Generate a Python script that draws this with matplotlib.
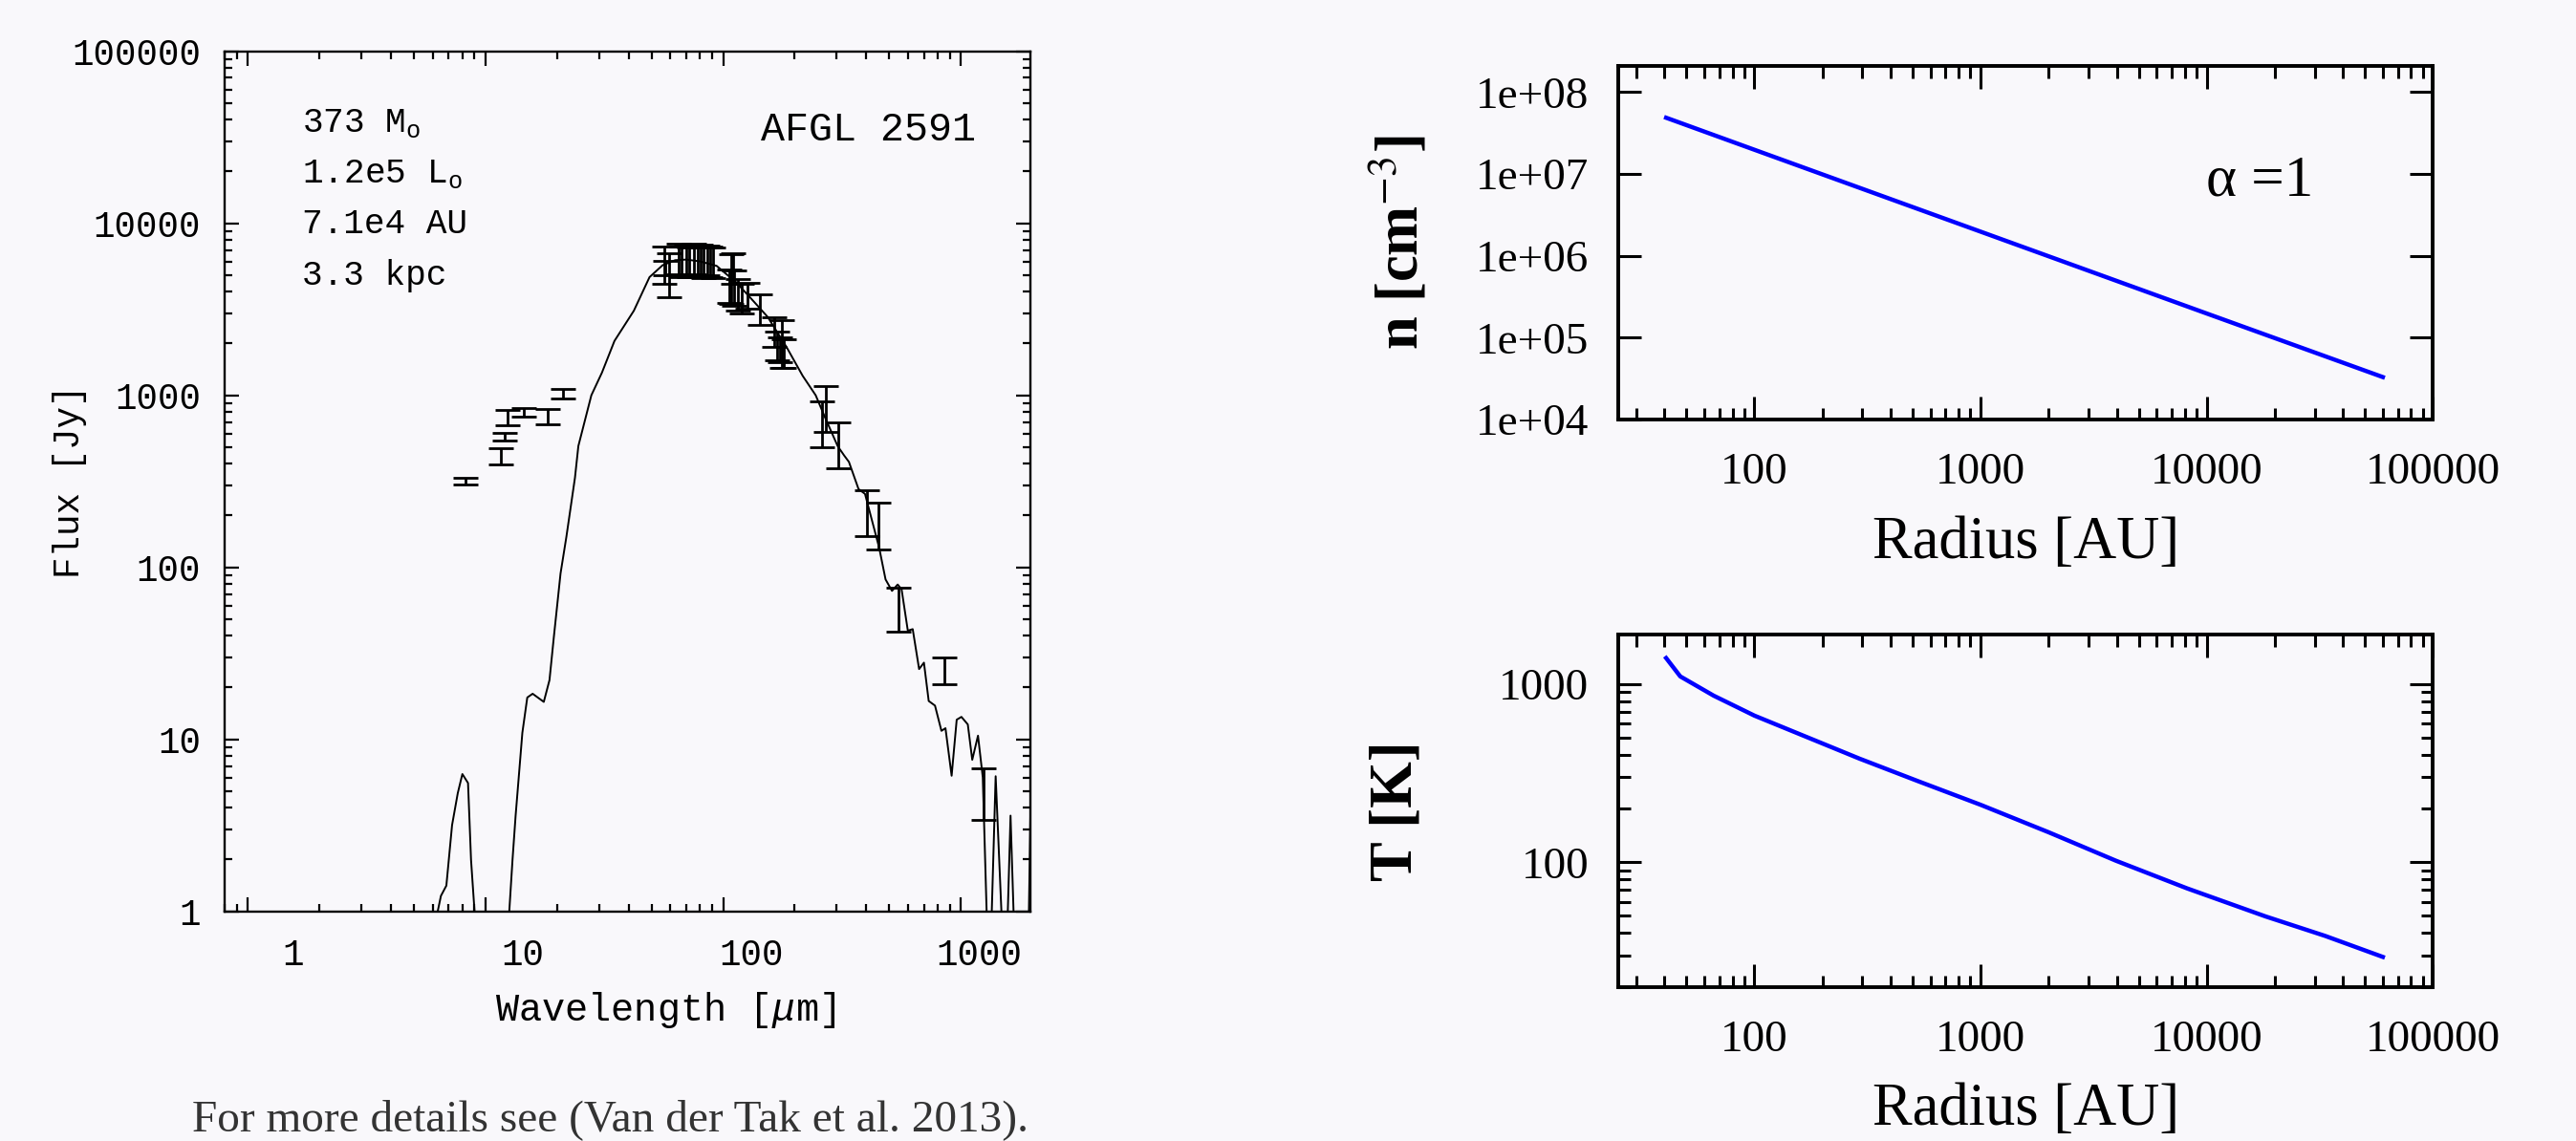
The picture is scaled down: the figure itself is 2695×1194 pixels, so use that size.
import matplotlib
matplotlib.use("Agg")
import matplotlib.pyplot as plt
from matplotlib.ticker import FixedLocator, LogLocator
import numpy as np

# --- SED of AFGL 2591 (left panel) ---
model_wav = [6.2, 6.3, 6.5, 6.85, 7.24, 7.65, 8.0, 8.45, 8.7, 9.0, 9.3, 12.3, 12.6, 13.0,
             13.4, 14.3, 15.0, 15.8, 17.6, 18.6, 19.4, 20.7, 21.9, 23.8, 24.6, 27.9, 30.9,
             34.9, 42.1, 49.0, 55.6, 62.8, 70, 80, 93.9, 103, 113, 132, 154, 185, 216, 245,
             268, 303, 323, 338, 371, 395, 453, 482, 513, 542, 563, 598, 627, 667, 699, 732,
             778, 828, 861, 914, 960, 1005, 1069, 1116, 1180, 1236, 1315, 1400, 1536, 1617,
             1711, 1906, 1960, 2000]
model_flux = [0.4, 1.0, 1.23, 1.41, 3.17, 4.86, 6.28, 5.57, 1.99, 1.0, 0.4, 0.4, 1.0, 1.99,
              3.61, 10.9, 17.5, 18.4, 16.5, 22.1, 39.3, 92, 150, 331, 507, 1000, 1352,
              2070, 3100, 4860, 5700, 6100, 6150, 6000, 5650, 5070, 4560, 3610, 2850, 1900,
              1297, 1000, 745, 507, 446, 410, 285, 267, 130, 85, 72.9, 79.4, 74.4, 42.8,
              43.7, 25.6, 27.9, 16.7, 15.7, 11.2, 11.6, 6.14, 13.0, 13.5, 12.2, 7.6, 10.5,
              6.0, 0.3, 6.1, 0.3, 3.6, 0.3, 0.3, 3.6, 6.0]

obs_wav = [8.22, 11.6, 12.0, 12.4, 14.55, 18.3, 21.1,
           56.4, 57.3, 59.5, 64.8, 66.8, 70.0, 72.2, 75.6, 78.0, 80.4, 83.0, 85.5, 88.2, 91.0,
           106, 108, 110, 111, 115, 120, 126, 143, 164, 169, 174, 177, 180,
           260, 271, 304, 401, 450, 546, 849, 1248]
obs_flux = [317, 443, 573, 743, 798, 753, 1022,
            5875, 5495, 5200, 6300, 6100, 6250, 6050, 6300, 6150, 6250, 6000, 6200, 6100, 6000,
            4420, 5000, 5570, 4300, 3930, 3720, 3840, 3200, 2375, 1980, 1866, 2090, 1780,
            710, 870, 537, 216, 182, 59, 25.3, 5.1]
obs_err = [14, 47, 28, 75, 48, 75, 61,
           1415, 525, 1490, 1260, 1220, 1250, 1210, 1260, 1230, 1250, 1200, 1240, 1220, 1200,
           975, 1620, 1115, 990, 820, 740, 660, 640, 475, 375, 300, 650, 340,
           210, 260, 161, 65, 55, 17, 4.5, 1.7]

sed_xticks = [1, 10, 100, 1000]
sed_xtick_labels = ["1", "10", "100", "1000"]
sed_xlabel_pos = [1.55, 14.3, 131, 1190]   # labels sit a bit right of their ticks in the original
sed_yticks = [1, 10, 100, 1000, 10000, 100000]
sed_ytick_labels = ["1", "10", "100", "1000", "10000", "100000"]
source_info = ["373 M$_\\mathrm{o}$", "1.2e5 L$_\\mathrm{o}$", "7.1e4 AU", "3.3 kpc"]

# --- envelope model (right panels) ---
radius_n = [40.7, 100, 1000, 10000, 60000]
density = [4.85e7, 1.97e7, 1.97e6, 1.97e5, 3.3e4]
radius_t = [40.7, 47, 66, 100, 166, 292, 533, 1000, 2005, 3960, 8180, 18200, 33300, 60000]
temperature = [1400, 1104, 861, 665, 511, 381, 284, 210, 147, 102, 71.3, 49.6, 38.6, 29.4]

r_ticks = [100, 1000, 10000, 100000]
r_tick_labels = ["100", "1000", "10000", "100000"]
n_ticks = [1e4, 1e5, 1e6, 1e7, 1e8]
n_tick_labels = ["1e+04", "1e+05", "1e+06", "1e+07", "1e+08"]
t_ticks = [100, 1000]
t_tick_labels = ["100", "1000"]

bg = "#f9f8fb"
mono = ["Liberation Mono", "DejaVu Sans Mono"]
serif = ["Liberation Serif", "DejaVu Serif"]

plt.rcParams["mathtext.fontset"] = "custom"
plt.rcParams["mathtext.rm"] = "Liberation Mono"
plt.rcParams["mathtext.it"] = "Liberation Mono:italic"

fig = plt.figure(figsize=(26.95, 11.94), dpi=100, facecolor=bg)

# left: SED
ax = fig.add_axes([0.0872, 0.2013, 0.3128, 0.7538])
ax.set_facecolor(bg)
ax.plot(model_wav, model_flux, color="k", lw=1.4)
ax.errorbar(obs_wav, obs_flux, yerr=obs_err, fmt="none", ecolor="k",
            elinewidth=2.0, capsize=9.7, capthick=2.0)
ax.set_xscale("log")
ax.set_yscale("log")
ax.set_xlim(0.8, 1960)
ax.set_ylim(1, 1e5)
ax.xaxis.set_major_locator(FixedLocator(sed_xticks))
ax.xaxis.set_minor_locator(LogLocator(base=10, subs=np.arange(2, 10)))
ax.set_yticks(sed_yticks, labels=sed_ytick_labels)
ax.yaxis.set_minor_locator(LogLocator(base=10, subs=np.arange(2, 10)))
ax.tick_params(which="both", direction="in", top=True, right=True, width=1.6)
ax.tick_params(which="major", length=11)
ax.tick_params(which="minor", length=5.5)
ax.tick_params(axis="x", labelbottom=False)
ax.tick_params(axis="y", pad=18, labelsize=27)
for lab in ax.get_yticklabels():
    lab.set_family(mono)
for pos, lab in zip(sed_xlabel_pos, sed_xtick_labels):
    ax.text(pos, -0.032, lab, transform=ax.get_xaxis_transform(), ha="center", va="top",
            fontsize=27, family=mono)
for sp in ax.spines.values():
    sp.set_linewidth(1.7)

ax.set_ylabel("Flux [Jy]", family=mono, fontsize=27)
ax.yaxis.set_label_coords(-0.171, 0.5)
ax.set_xlabel("Wavelength [$\\mu$m]", family=mono, fontsize=29)
ax.xaxis.set_label_coords(0.547, -0.091)

for i, s in enumerate(source_info):
    ax.text(0.096, 0.906 - 0.059 * i, s, transform=ax.transAxes, family=mono,
            fontsize=26, va="baseline")
ax.text(0.932, 0.896, "AFGL 2591", transform=ax.transAxes, family=mono, fontsize=30,
        ha="right", va="baseline")

# right: density and temperature profiles
ax_n = fig.add_axes([0.6282, 0.6323, 0.3163, 0.3102])
ax_t = fig.add_axes([0.6282, 0.1352, 0.3163, 0.3088])

ax_n.plot(radius_n, density, color="#0000ff", lw=3.2)
ax_t.plot(radius_t, temperature, color="#0000ff", lw=3.2)

for a in (ax_n, ax_t):
    a.set_facecolor(bg)
    a.set_xscale("log")
    a.set_yscale("log")
    a.set_xlim(25, 1e5)
    a.set_xticks(r_ticks, labels=r_tick_labels)
    a.xaxis.set_minor_locator(LogLocator(base=10, subs=np.arange(2, 10)))
    a.tick_params(which="both", direction="in", top=True, right=True, width=2.2)
    a.tick_params(which="major", length=17)
    a.tick_params(which="minor", length=9)
    a.tick_params(axis="x", pad=25, labelsize=34)
    a.tick_params(axis="y", pad=22, labelsize=34)
    for lab in a.get_xticklabels() + a.get_yticklabels():
        lab.set_family(serif)
    for sp in a.spines.values():
        sp.set_linewidth(2.8)
    a.set_xlabel("Radius [AU]", family=serif, fontsize=45)
    a.xaxis.set_label_coords(0.5, -0.272)

ax_n.set_ylim(1e4, 2.1e8)
ax_n.set_yticks(n_ticks, labels=n_tick_labels)
ax_n.yaxis.set_minor_locator(LogLocator(base=10, subs=[2, 5]))
for lab in ax_n.get_yticklabels():
    lab.set_family(serif)
ax_n.set_ylabel("n [cm$^{-3}$]", family=serif, fontsize=45, fontweight="bold",
                math_fontfamily="stix")
ax_n.yaxis.set_label_coords(-0.229, 0.5)
ax_n.text(0.722, 0.634, "\u03b1 =1", transform=ax_n.transAxes, family=serif,
          fontsize=44, va="baseline")

ax_t.set_ylim(20, 1900)
ax_t.set_yticks(t_ticks, labels=t_tick_labels)
ax_t.yaxis.set_minor_locator(LogLocator(base=10, subs=np.arange(2, 10)))
for lab in ax_t.get_yticklabels():
    lab.set_family(serif)
ax_t.set_ylabel("T [K]", family=serif, fontsize=45, fontweight="bold")
ax_t.yaxis.set_label_coords(-0.237, 0.5)

fig.text(201 / 2695, 1 - 1183 / 1194, "For more details see (Van der Tak et al. 2013).",
         family=serif, fontsize=34, color="#333333", va="baseline")

fig.savefig("out.png", dpi=100, facecolor=bg)
